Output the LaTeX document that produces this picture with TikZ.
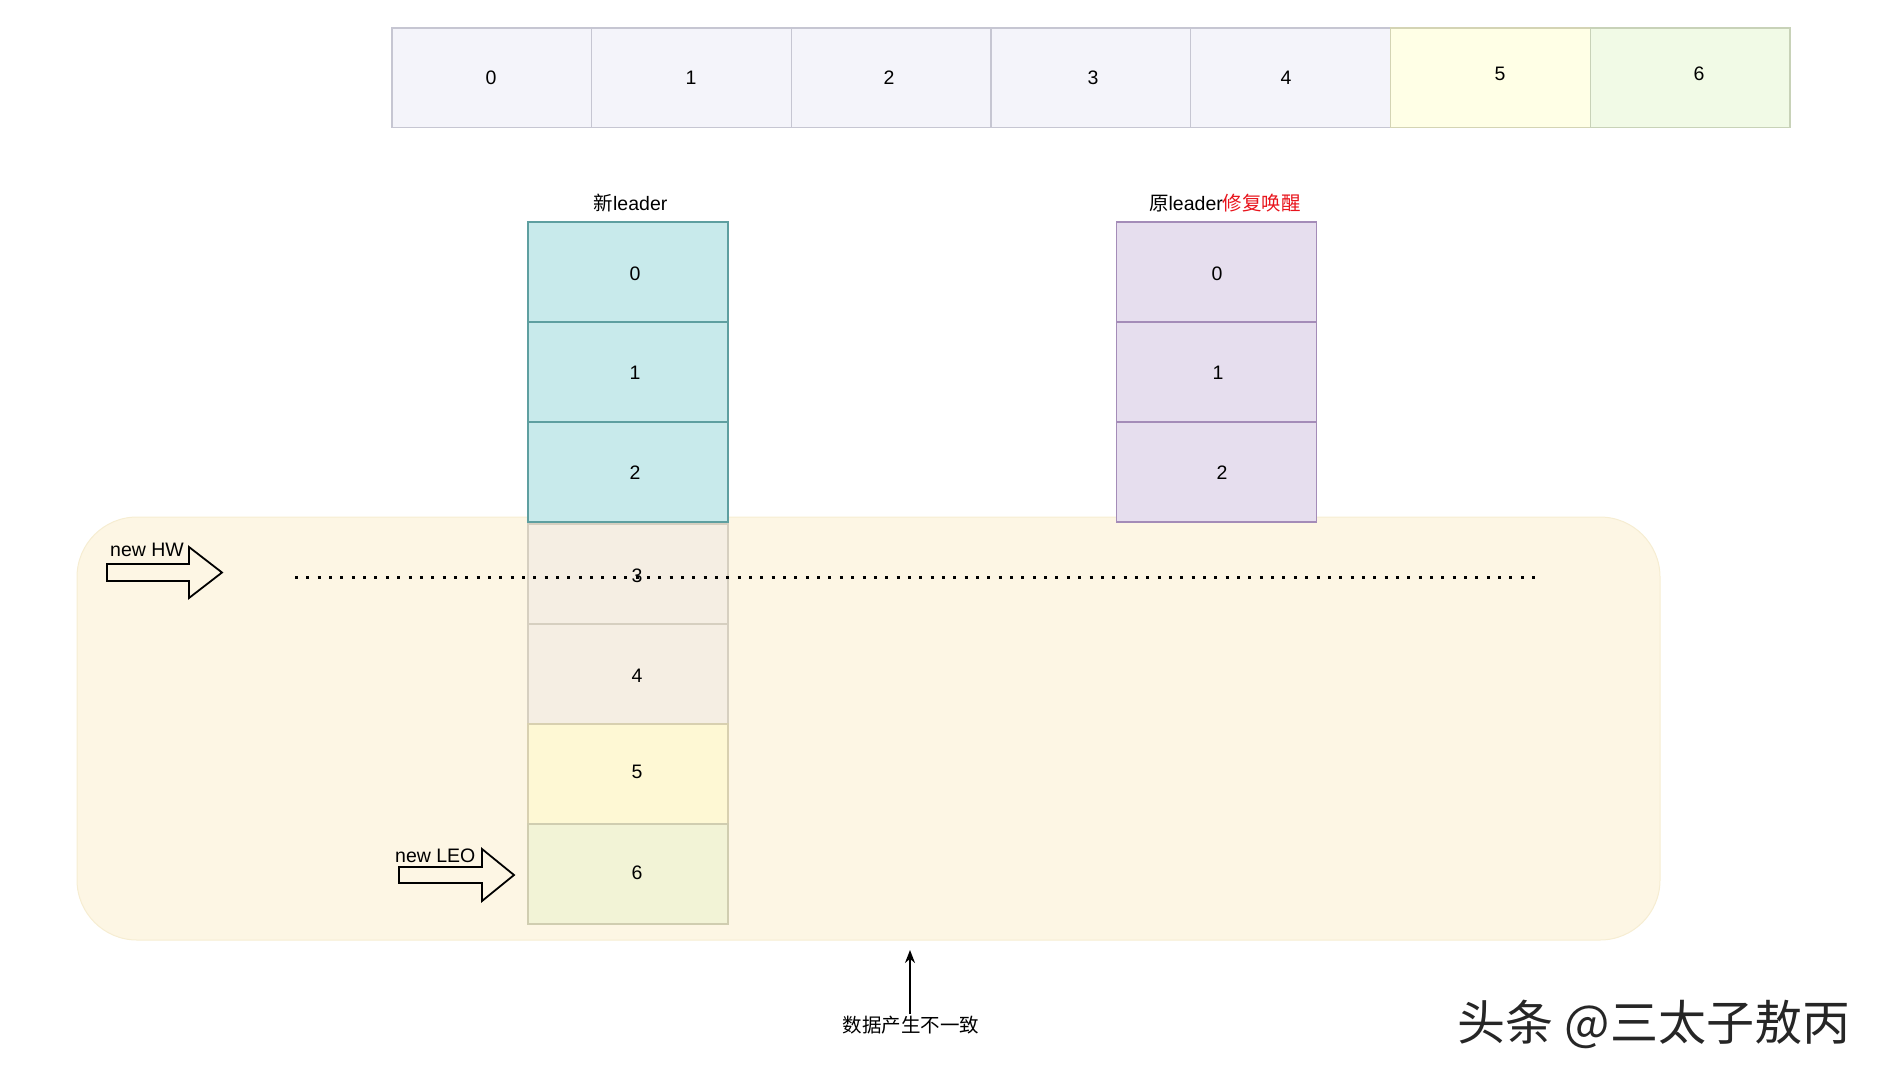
\documentclass[tikz,border=0pt]{standalone}
\usepackage{fontspec}
\setmainfont{Liberation Sans}
\newfontfamily\cjk{Noto Sans CJK SC}
\usetikzlibrary{arrows.meta}
\definecolor{topfill}{HTML}{F4F4FA}
\definecolor{topline}{HTML}{C6C6D2}
\definecolor{yelfill}{HTML}{FFFFE6}
\definecolor{yelline}{HTML}{D4D4B4}
\definecolor{grnfill}{HTML}{F1FAE6}
\definecolor{grnline}{HTML}{C8D2B8}
\definecolor{tealfill}{HTML}{C8EAEB}
\definecolor{tealline}{HTML}{5E9FA0}
\definecolor{purfill}{HTML}{E6DEEE}
\definecolor{purline}{HTML}{A48CB8}
\definecolor{bgfill}{HTML}{FDF6E4}
\definecolor{bgline}{HTML}{F6EDD2}
\definecolor{begfill}{HTML}{F5EEE3}
\definecolor{begline}{HTML}{D6CFC0}
\definecolor{c5fill}{HTML}{FEF8D4}
\definecolor{c5line}{HTML}{D8D0B0}
\definecolor{c6fill}{HTML}{F2F3D6}
\definecolor{c6line}{HTML}{D0CDB0}
\definecolor{warn}{HTML}{E8141C}
\begin{document}
\begin{tikzpicture}[x=1pt,y=-1pt,
  topcell/.style={rectangle,minimum width=199.7pt,minimum height=99.5pt,inner sep=0pt,line width=1.3pt,draw=topline,fill=topfill},
  colcell/.style={rectangle,minimum width=200pt,minimum height=100pt,inner sep=0pt,line width=1.3pt},
  num/.style={inner sep=0pt,font=\fontsize{19.5}{20}\selectfont},
  lbl/.style={inner sep=0pt,font=\fontsize{19.5}{20}\selectfont},
  blockarrow/.style={draw=black,line width=1.8pt,line join=miter}
]
\useasboundingbox (0,0) rectangle (1882,1080);

% background zone
\node[rectangle,rounded corners=60pt,minimum width=1583pt,minimum height=423pt,draw=bgline,fill=bgfill,line width=1pt] (zone) at (868.5,728.5) {};

% top row
\foreach \i in {0,1,2,3,4}{
  \node[topcell] (t\i) at ({491.85+199.7*\i},77.6) {};
}
\node[topcell,fill=yelfill,draw=yelline] (t5) at ({491.85+199.7*5},77.6) {};
\node[topcell,fill=grnfill,draw=grnline] (t6) at ({491.85+199.7*6},77.6) {};
\node[num] (tn0) at (491,78) {0};
\node[num] (tn1) at (691,78) {1};
\node[num] (tn2) at (889,78) {2};
\node[num] (tn3) at (1093,78) {3};
\node[num] (tn4) at (1286,78) {4};
\node[num] (tn5) at (1500,74) {5};
\node[num] (tn6) at (1699,74) {6};

% new leader column
\node[lbl] (newlbl) at (630.5,203) {{\cjk 新}leader};
\node[colcell,fill=tealfill,draw=tealline] (a0) at (628,272) {};
\node[colcell,fill=tealfill,draw=tealline] (a1) at (628,372) {};
\node[colcell,fill=tealfill,draw=tealline] (a2) at (628,472) {};
\node[colcell,fill=begfill,draw=begline] (a3) at (628,574) {};
\node[colcell,fill=begfill,draw=begline] (a4) at (628,674) {};
\node[colcell,fill=c5fill,draw=c5line] (a5) at (628,774) {};
\node[colcell,fill=c6fill,draw=c6line] (a6) at (628,874) {};
\node[num] (an0) at (635,274) {0};
\node[num] (an1) at (635,373) {1};
\node[num] (an2) at (635,473) {2};
\node[num] (an3) at (637,576) {3};
\node[num] (an4) at (637,675.5) {4};
\node[num] (an5) at (637,771.5) {5};
\node[num] (an6) at (637,872.5) {6};

% old leader column
\node[lbl] (oldlbl) at (1225,203) {{\cjk 原}leader{\cjk\color{warn}修复唤醒}};
\node[colcell,fill=purfill,draw=purline] (b0) at (1216.5,272) {};
\node[colcell,fill=purfill,draw=purline] (b1) at (1216.5,372) {};
\node[colcell,fill=purfill,draw=purline] (b2) at (1216.5,472) {};
\node[num] (bn0) at (1217,274) {0};
\node[num] (bn1) at (1218,373) {1};
\node[num] (bn2) at (1222,473) {2};

% dotted HW line
\coordinate (hwl) at (295,577);
\coordinate (hwr) at (1536,577);
\draw[line width=3pt,dash pattern=on 3pt off 8.35pt] (hwl) -- (hwr);

% new HW arrow
\draw[blockarrow] (107,564) -- (189,564) -- (189,547) -- (222,572.5) -- (189,598) -- (189,581) -- (107,581) -- cycle;
\node[lbl,anchor=base west] (hw) at (110,556) {new HW};

% new LEO arrow
\draw[blockarrow] (399,867) -- (482,867) -- (482,849) -- (514,875) -- (482,901) -- (482,883) -- (399,883) -- cycle;
\node[lbl,anchor=base west] (leo) at (395,862) {new LEO};

% inconsistency note
\node[lbl] (inc) at (911,1025) {\cjk 数据产生不一致};
\coordinate (inctop) at (910,950);
\draw[line width=1.8pt,-{Stealth[length=13pt,width=10pt]}] ([yshift=2pt]inc.north -| inctop) -- (inctop);

% watermark
\node[inner sep=0pt,font=\fontsize{48}{48}\selectfont\cjk,text=black!85] (wm) at (1654,1024) {头条 @三太子敖丙};
\end{tikzpicture}
\end{document}
